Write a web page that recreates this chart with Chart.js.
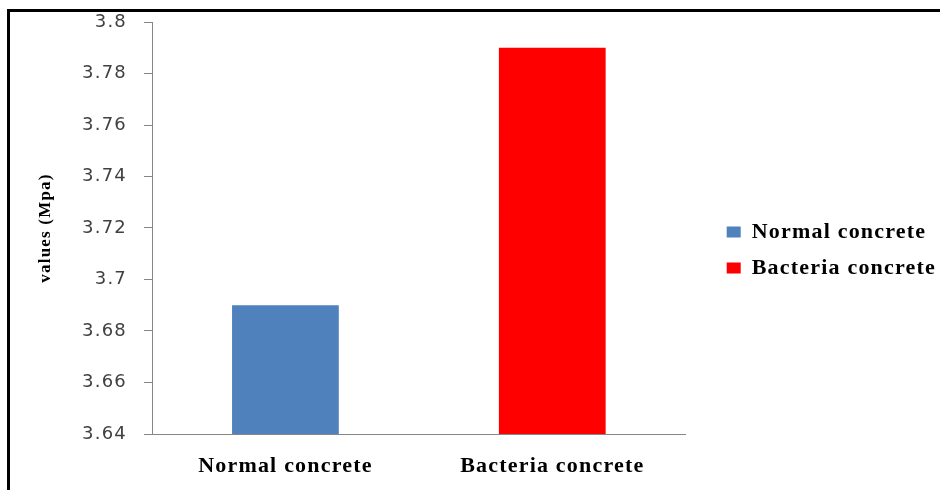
<!DOCTYPE html>
<html>
<head>
<meta charset="utf-8">
<script src="https://cdn.jsdelivr.net/npm/chart.js@4/dist/chart.umd.min.js"></script>
<style>
  html, body { margin: 0; padding: 0; background: #fff; overflow: hidden; }
  #wrap { position: relative; width: 940px; height: 490px; }
  #frame {
    position: absolute; left: 7px; top: 9px; width: 980px; height: 520px;
    border-left: 3px solid #000; border-top: 3px solid #000; pointer-events: none;
  }
  canvas { position: absolute; left: 0; top: 0; }
</style>
</head>
<body>
<div id="wrap">
  <canvas id="chart" width="940" height="490"></canvas>
  <div id="frame"></div>
</div>
<script>
// Splitting tensile strength of the two mixes
const categories = ['Normal concrete', 'Bacteria concrete'];
const seriesNames = ['Normal concrete', 'Bacteria concrete'];
const normalValues = [3.69, null];
const bacteriaValues = [null, 3.79];
const yTickLabels = ['3.64', '3.66', '3.68', '3.7', '3.72', '3.74', '3.76', '3.78', '3.8'];
const yTitle = 'values (Mpa)';

const serif = '"Liberation Serif", "Times New Roman", serif';
const axisGrey = '#868686';

// slightly open letter spacing for every label on the canvas
const textSpacing = {
  id: 'textSpacing',
  beforeUpdate(chart) { chart.ctx.letterSpacing = '1.2px'; },
  beforeDraw(chart) { chart.ctx.letterSpacing = '1.2px'; }
};

new Chart(document.getElementById('chart'), {
  type: 'bar',
  plugins: [textSpacing],
  data: {
    labels: categories,
    datasets: [
      { label: seriesNames[0], data: normalValues, backgroundColor: '#4F81BD',
        barPercentage: 0.4, categoryPercentage: 1, skipNull: true },
      { label: seriesNames[1], data: bacteriaValues, backgroundColor: '#FF0000',
        barPercentage: 0.4, categoryPercentage: 1, skipNull: true }
    ]
  },
  options: {
    responsive: false,
    devicePixelRatio: 1,
    animation: false,
    layout: { padding: { top: 22, left: 0, right: -6, bottom: 12 } },
    plugins: {
      tooltip: { enabled: false },
      legend: {
        position: 'right',
        align: 'center',
        maxWidth: 400,
        labels: {
          boxWidth: 14,
          boxHeight: 11,
          padding: 14,
          color: '#000',
          font: { family: serif, size: 22, weight: 'bold' }
        }
      }
    },
    scales: {
      x: {
        grid: { display: false, drawTicks: false },
        border: { display: true, color: axisGrey, width: 1 },
        ticks: {
          color: '#000',
          padding: 19,
          font: { family: serif, size: 22, weight: 'bold' }
        },
        afterFit: (s) => { s.height = 44; }
      },
      y: {
        min: 3.64,
        max: 3.8,
        grid: { drawOnChartArea: false, drawTicks: true, tickLength: 8, color: axisGrey },
        border: { display: true, color: axisGrey, width: 1 },
        ticks: {
          stepSize: 0.02,
          padding: 17,
          color: '#404040',
          font: { family: '"DejaVu Sans", Verdana, sans-serif', size: 18 },
          callback: (v, i) => yTickLabels[i]
        },
        title: {
          display: true,
          text: yTitle,
          color: '#000',
          padding: { top: 35, bottom: 0 },
          font: { family: serif, size: 17, weight: 'bold' }
        },
        afterFit: (s) => { s.width = 152; s.paddingTop = 10; s.paddingBottom = 10; }
      },
      // empty right-hand gutter between the plot and the legend
      gutter: {
        type: 'linear',
        position: 'right',
        display: true,
        grid: { display: false },
        border: { display: false },
        ticks: { display: false },
        afterFit: (s) => { s.width = 27; }
      }
    }
  }
});
</script>
</body>
</html>
